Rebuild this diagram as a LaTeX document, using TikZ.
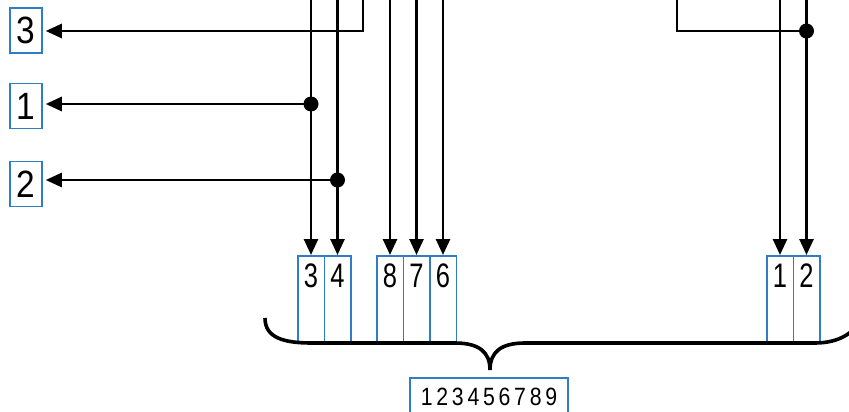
\documentclass[tikz,border=0pt]{standalone}
\usepackage{fontspec}
\setmainfont{Liberation Sans}
\newfontfamily\sidedigits[FakeStretch=0.88]{Liberation Sans}
\newfontfamily\narrowdigits[FakeStretch=0.75]{Liberation Sans}
\newfontfamily\spaceddigits[FakeStretch=0.85,LetterSpace=15]{Liberation Sans}
\usetikzlibrary{arrows.meta}
\definecolor{boxblue}{RGB}{46,125,198}
\begin{document}
\begin{tikzpicture}[x=1pt,y=-1pt,
  wire/.style={line width=2.6pt, draw=black},
  arr/.style={wire, -{Triangle[length=16pt,width=14pt]}},
  sidebox/.style={draw=boxblue, line width=1.5pt, minimum width=32pt, minimum height=45pt, inner sep=0pt, font=\fontsize{38}{38}\sidedigits},
  slot/.style={draw=boxblue, line width=1.5pt, minimum width=26.5pt, minimum height=87pt, inner sep=0pt, anchor=north,
    label={[font=\fontsize{34}{34}\narrowdigits, anchor=north, inner sep=0pt, yshift=-8.5pt]north:#1}},
  dot/.style={circle, fill=black, inner sep=0pt, minimum size=15pt},
  brace/.style={line width=3.6pt, draw=black},
]
\useasboundingbox (0,0) rectangle (849,412);

% left target boxes
\node[sidebox] (L3) at (26,30.5) {3};
\node[sidebox] (L1) at (26,106) {1};
\node[sidebox] (L2) at (26,184) {2};

% slot boxes
\node[slot=3] (S3) at (311,255) {};
\node[slot=4] (S4) at (337.5,255) {};
\node[slot=8] (S8) at (390,255) {};
\node[slot=7] (S7) at (416.5,255) {};
\node[slot=6] (S6) at (443,255) {};
\node[slot=1] (S1) at (780,255) {};
\node[slot=2] (S2) at (806.5,255) {};

% top entry points
\coordinate (T3) at (311,-3);
\coordinate (T4) at (337.5,-3);
\coordinate (T8) at (390,-3);
\coordinate (T7) at (416.5,-3);
\coordinate (T6) at (443,-3);
\coordinate (T1) at (780,-3);
\coordinate (T2) at (806.5,-3);
\coordinate (TA) at (363,-3);
\coordinate (CA) at (363,31);
\coordinate (TB) at (677,-3);
\coordinate (CB) at (677,31);

% vertical arrows
\draw[arr] (T3) -- (S3.north);
\draw[arr] (T4) -- (S4.north);
\draw[arr] (T8) -- (S8.north);
\draw[arr] (T7) -- (S7.north);
\draw[arr] (T6) -- (S6.north);
\draw[arr] (T1) -- (S1.north);
\draw[arr] (T2) -- (S2.north);

% junction dots
\node[dot] (D1) at (311,104) {};
\node[dot] (D2) at (337.5,180) {};
\node[dot] (D3) at (806.5,31) {};

% horizontal arrows to left boxes
\draw[arr, shorten >=3pt] (TA) -- (CA) -- (L3.east |- CA);
\draw[arr, shorten >=3pt] (D1.center) -- (L1.east |- D1);
\draw[arr, shorten >=3pt] (D2.center) -- (L2.east |- D2);

% right loop
\draw[wire] (TB) -- (CB) -- (D3.center);

% brace
\draw[brace] (265,318) .. controls (265,338) and (284,343) .. (312,343)
  -- (455,343) .. controls (479,343) and (490,352) .. (490,370)
  .. controls (490,352) and (501,343) .. (525,343)
  -- (815,343) .. controls (840,343) and (856,332) .. (862,316);

% sequence box
\node[draw=boxblue, line width=1.5pt, minimum width=158pt, minimum height=38pt, inner sep=0pt, anchor=north,
  font=\fontsize{25}{25}\spaceddigits] (SEQ) at (489,377) {123456789};
\end{tikzpicture}
\end{document}
